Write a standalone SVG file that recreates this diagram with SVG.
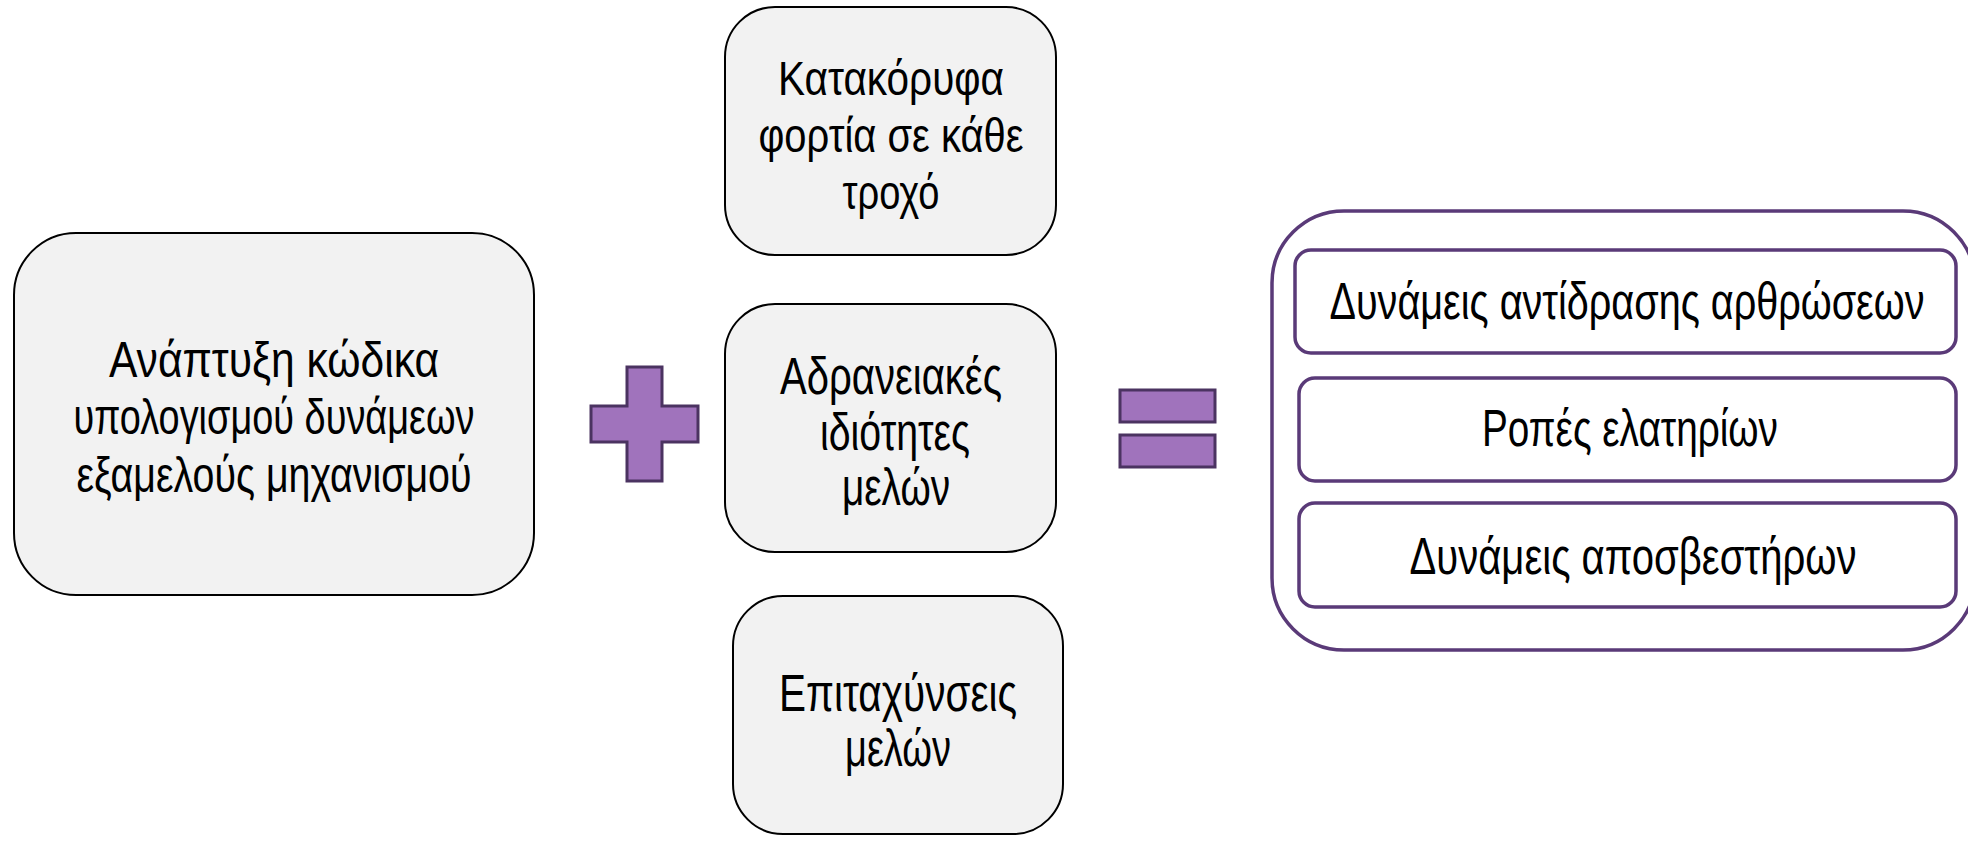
<svg xmlns="http://www.w3.org/2000/svg" width="1968" height="841" viewBox="0 0 1968 841">
<style>
.box{fill:#f2f2f2;stroke:#000;stroke-width:2}
.op{fill:#a073bc;stroke:#4b3361;stroke-width:3}
.outer{fill:#fff;stroke:#5a3a78;stroke-width:3.5}
.inner{fill:#fff;stroke:#5a3a78;stroke-width:3.5}
text{font-family:"Liberation Sans",Arial,sans-serif;fill:#000;text-anchor:middle}
.t{font-size:50px}
.m{font-size:51px}
.a{font-size:48px}
.r{font-size:52px}
</style>
<rect width="1968" height="841" fill="#fff"/>
<g id="node-code">
<rect class="box" x="14" y="233" width="520" height="362" rx="62" ry="62"/>
<text class="t" x="274" y="377" textLength="330" lengthAdjust="spacingAndGlyphs">Ανάπτυξη κώδικα</text>
<text class="t" x="274" y="434" textLength="401" lengthAdjust="spacingAndGlyphs">υπολογισμού δυνάμεων</text>
<text class="t" x="274" y="492" textLength="395" lengthAdjust="spacingAndGlyphs">εξαμελούς μηχανισμού</text>
</g>
<g id="plus">
<path class="op" d="M627,367 H662 V406 H698 V442 H662 V481 H627 V442 H591 V406 H627 Z"/>
</g>
<g id="node-loads">
<rect class="box" x="725" y="7" width="331" height="248" rx="50" ry="50"/>
<text class="a" x="891" y="95" textLength="226" lengthAdjust="spacingAndGlyphs">Κατακόρυφα</text>
<text class="a" x="891" y="152" textLength="265" lengthAdjust="spacingAndGlyphs">φορτία σε κάθε</text>
<text class="a" x="891" y="209" textLength="97" lengthAdjust="spacingAndGlyphs">τροχό</text>
</g>
<g id="node-inertia">
<rect class="box" x="725" y="304" width="331" height="248" rx="50" ry="50"/>
<text class="m" x="891" y="394" textLength="222" lengthAdjust="spacingAndGlyphs">Αδρανειακές</text>
<text class="m" x="895" y="450" textLength="150" lengthAdjust="spacingAndGlyphs">ιδιότητες</text>
<text class="m" x="896" y="505" textLength="108" lengthAdjust="spacingAndGlyphs">μελών</text>
</g>
<g id="node-accel">
<rect class="box" x="733" y="596" width="330" height="238" rx="50" ry="50"/>
<text class="m" x="898" y="711" textLength="238" lengthAdjust="spacingAndGlyphs">Επιταχύνσεις</text>
<text class="m" x="898" y="766" textLength="106" lengthAdjust="spacingAndGlyphs">μελών</text>
</g>
<g id="equals">
<rect class="op" x="1120" y="390" width="95" height="32"/>
<rect class="op" x="1120" y="435" width="95" height="32"/>
</g>
<g id="node-results">
<rect class="outer" x="1272" y="211" width="703" height="439" rx="72" ry="72"/>
<g id="result-joints">
<rect class="inner" x="1295" y="250" width="661" height="103" rx="16" ry="16"/>
<text class="r" x="1627" y="319" textLength="595" lengthAdjust="spacingAndGlyphs">Δυνάμεις αντίδρασης αρθρώσεων</text>
</g>
<g id="result-springs">
<rect class="inner" x="1299" y="378" width="657" height="103" rx="16" ry="16"/>
<text class="r" x="1630" y="446" textLength="296" lengthAdjust="spacingAndGlyphs">Ροπές ελατηρίων</text>
</g>
<g id="result-dampers">
<rect class="inner" x="1299" y="503" width="657" height="104" rx="16" ry="16"/>
<text class="r" x="1633" y="574" textLength="447" lengthAdjust="spacingAndGlyphs">Δυνάμεις αποσβεστήρων</text>
</g>
</g>
<g id="connectors"></g>
</svg>
